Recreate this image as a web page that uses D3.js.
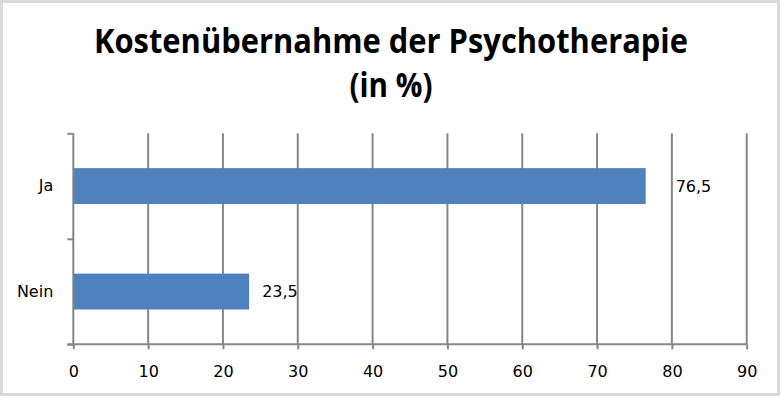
<!DOCTYPE html>
<html>
<head>
<meta charset="utf-8">
<script src="https://cdn.jsdelivr.net/npm/d3@7"></script>
<style>
  body { margin: 0; background: #fff; }
  svg { display: block; }
</style>
</head>
<body>
<div id="chart"></div>
<script>
'use strict';

// data
var categories = ["Ja", "Nein"];
var values = [76.5, 23.5];
var xTicks = [0, 10, 20, 30, 40, 50, 60, 70, 80, 90];
var titleLines = ["Kostenübernahme der Psychotherapie", "(in %)"];

var W = 781, H = 397;
var margin = {top: 133.3, right: 34.3, bottom: 52.7, left: 73.3};
var width = W - margin.left - margin.right;
var height = H - margin.top - margin.bottom;
var gridColor = "#868686";
var labelFont = "'DejaVu Sans', sans-serif";

// label offsets from bar end (data labels were placed by hand in the original)
var labelDx = {"Ja": 30, "Nein": 13};

var de = d3.formatLocale({decimal: ",", thousands: ".", grouping: [3], currency: ["", " €"]});
var fmt = de.format(".1f");

var svg = d3.select("#chart").append("svg")
    .attr("width", W)
    .attr("height", H);

// outer frame
svg.append("rect")
    .attr("x", 1.5).attr("y", 1.5)
    .attr("width", W - 4).attr("height", H - 4)
    .attr("fill", "#fff")
    .attr("stroke", "#d9d9d9")
    .attr("stroke-width", 3);

// title, two lines, condensed to the width of the original (Calibri is narrow)
var titleWidths = [594, 83];
var titleY = [53, 97];
titleLines.forEach(function(line, i) {
    svg.append("text")
        .attr("x", 391)
        .attr("y", titleY[i])
        .attr("text-anchor", "middle")
        .attr("textLength", titleWidths[i])
        .attr("lengthAdjust", "spacingAndGlyphs")
        .style("font-family", "'Open Sans', sans-serif")
        .style("font-weight", "700")
        .style("font-size", "34px")
        .attr("fill", "#000")
        .text(line);
});

var g = svg.append("g").attr("transform", "translate(" + margin.left + "," + margin.top + ")");

var x = d3.scaleLinear()
    .domain([xTicks[0], xTicks[xTicks.length - 1]])
    .range([0, width]);

var y = d3.scaleBand()
    .domain(categories)
    .range([0, height])
    .paddingInner(0.66)
    .paddingOuter(0.33);

// boundaries between categories for the tick marks
var yEdge = d3.scaleLinear().domain([0, categories.length]).range([0, height]);

// vertical gridlines
g.append("g")
    .selectAll("line")
    .data(xTicks.slice(1))
    .enter().append("line")
        .attr("x1", function(d) { return x(d); })
        .attr("x2", function(d) { return x(d); })
        .attr("y1", 0)
        .attr("y2", height)
        .attr("stroke", gridColor)
        .attr("stroke-width", 2);

// bars
g.append("g")
    .selectAll("rect")
    .data(categories)
    .enter().append("rect")
        .attr("x", x(0))
        .attr("y", function(d) { return y(d); })
        .attr("width", function(d, i) { return x(values[i]) - x(0); })
        .attr("height", y.bandwidth())
        .attr("fill", "#4f81bd");

// value labels
g.append("g")
    .selectAll("text")
    .data(categories)
    .enter().append("text")
        .attr("x", function(d, i) { return x(values[i]) + labelDx[d]; })
        .attr("y", function(d) { return y(d) + y.bandwidth() / 2; })
        .attr("dy", "0.35em")
        .style("font-family", labelFont)
        .style("font-size", "16px")
        .attr("fill", "#000")
        .text(function(d, i) { return fmt(values[i]); });

// category axis: tick marks at the boundaries
var axisLeft = g.append("g")
    .call(d3.axisLeft(yEdge).tickValues(d3.range(categories.length + 1)).tickSize(6).tickFormat(""));
axisLeft.select(".domain").remove();
axisLeft.selectAll("line").attr("stroke", gridColor).attr("stroke-width", 2);
g.append("line")
    .attr("x1", 0).attr("x2", 0)
    .attr("y1", 0).attr("y2", height)
    .attr("stroke", gridColor).attr("stroke-width", 2);

// category labels
var catAxis = g.append("g")
    .call(d3.axisLeft(y).tickSize(0).tickPadding(20));
catAxis.select(".domain").remove();
catAxis.selectAll("text")
    .style("font-family", labelFont)
    .style("font-size", "16px")
    .attr("fill", "#000");

// value axis
var axisBottom = g.append("g")
    .attr("transform", "translate(0," + height + ")")
    .call(d3.axisBottom(x).tickValues(xTicks).tickSize(5).tickPadding(16).tickSizeOuter(0));
axisBottom.select(".domain")
    .attr("d", "M-6,0H" + width)
    .attr("stroke", gridColor).attr("stroke-width", 2);
axisBottom.selectAll("line").attr("stroke", gridColor).attr("stroke-width", 2);
axisBottom.selectAll("text")
    .style("font-family", labelFont)
    .style("font-size", "16px")
    .attr("fill", "#000");
</script>
</body>
</html>
